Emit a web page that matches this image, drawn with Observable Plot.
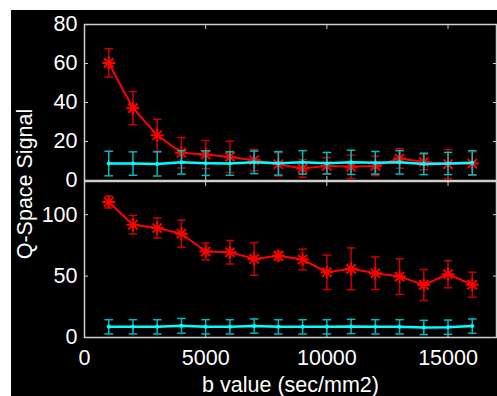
<!DOCTYPE html>
<html>
<head>
<meta charset="utf-8">
<script src="https://cdn.jsdelivr.net/npm/d3@7"></script>
<script src="https://cdn.jsdelivr.net/npm/@observablehq/plot@0.6"></script>
<style>
html, body { margin: 0; padding: 0; background: #fff; }
#wrap { position: relative; width: 497px; height: 396px; overflow: hidden; }
#bg { position: absolute; left: 11px; top: 10px; width: 486px; height: 386px; background: #000; }
#top, #bot { position: absolute; left: 0; }
#top { top: 0; }
#bot { top: 171px; }
#ylab { position: absolute; left: 25px; top: 184px; transform: translate(-50%, -50%) rotate(-90deg);
  color: #fff; font: 21.5px "Liberation Sans", Arial, sans-serif; white-space: nowrap; }
</style>
</head>
<body>
<div id="wrap">
  <div id="bg"></div>
  <div id="top"></div>
  <div id="bot"></div>
  <div id="ylab"></div>
</div>
<script>
const bValues = [1000, 2000, 3000, 4000, 5000, 6000, 7000, 8000, 9000, 10000, 11000, 12000, 13000, 14000, 15000, 16000];

const topRed    = [60.3, 37.1, 23.2, 14.2, 13.3, 12.1, 10.4, 8.3, 6.2, 7.5, 7.0, 7.5, 11.3, 9.5, 8.4, 8.7];
const topRedErr = [7.3, 8.5, 8.2, 7.8, 7.2, 8.0, 5.5, 6.0, 4.5, 4.2, 6.0, 5.0, 5.0, 4.0, 7.5, 6.0];
const topCyan    = [8.7, 8.7, 8.5, 9.3, 8.9, 8.7, 9.3, 8.8, 9.3, 8.9, 9.3, 9.1, 9.3, 8.5, 8.7, 9.1];
const topCyanErr = [6.3, 6.0, 6.2, 6.0, 6.3, 6.0, 5.8, 6.0, 6.0, 5.5, 6.2, 5.8, 6.0, 5.5, 5.7, 6.2];

const botRed    = [110.3, 91.8, 89.1, 84.5, 70.0, 69.4, 64.0, 66.5, 63.5, 53.1, 55.9, 52.3, 49.6, 42.8, 51.5, 43.0];
const botRedErr = [4.8, 7.6, 8.2, 11.0, 6.8, 9.6, 13.3, 3.5, 8.4, 14.0, 17.0, 13.2, 14.5, 12.6, 11.0, 10.2];
const botCyan    = [8.7, 8.7, 8.7, 9.5, 8.7, 8.7, 9.3, 8.7, 8.7, 8.7, 9.0, 8.7, 8.7, 8.2, 8.4, 9.3];
const botCyanErr = [5.8, 5.8, 5.8, 6.0, 5.8, 5.8, 5.8, 5.8, 5.8, 5.8, 5.8, 5.8, 5.8, 5.8, 5.8, 5.8];

const xTicks = [0, 5000, 10000, 15000];
const topYTicks = [0, 20, 40, 60, 80];
const botYTicks = [0, 50, 100];
const xLabel = "b value (sec/mm2)";
const yLabel = "Q-Space Signal";

const capSymbol = { draw(ctx, size) { const w = Math.sqrt(size / Math.PI); ctx.moveTo(-w, 0); ctx.lineTo(w, 0); } };
const starSymbol = { draw(ctx, size) {
  const R = Math.sqrt(size / Math.PI);
  for (let k = 0; k < 4; k++) {
    const a = k * Math.PI / 4;
    ctx.moveTo(-R * Math.cos(a), -R * Math.sin(a));
    ctx.lineTo(R * Math.cos(a), R * Math.sin(a));
  }
} };

function rows(vals, errs) {
  return bValues.map((b, i) => ({ b, v: vals[i], lo: vals[i] - errs[i], hi: vals[i] + errs[i] }));
}

function series(data, line, bar, isRed) {
  return [
    Plot.ruleX(data, { x: "b", y1: "lo", y2: "hi", stroke: bar, strokeWidth: 1.5 }),
    Plot.dot(data, { x: "b", y: "lo", symbol: capSymbol, r: 4.3, fill: "none", stroke: bar, strokeWidth: 1.5 }),
    Plot.dot(data, { x: "b", y: "hi", symbol: capSymbol, r: 4.3, fill: "none", stroke: bar, strokeWidth: 1.5 }),
    Plot.line(data, { x: "b", y: "v", stroke: line, strokeWidth: isRed ? 2 : 2.5 }),
    isRed
      ? Plot.dot(data, { x: "b", y: "v", symbol: starSymbol, r: 6.5, fill: "none", stroke: line, strokeWidth: 2 })
      : Plot.dot(data, { x: "b", y: "v", r: 2, fill: line, stroke: "none" })
  ];
}

const plain = d => String(d);

function panel({ redY, redE, cyanY, cyanE, yMax, yTicks, showX, height, marginTop, marginBottom }) {
  const red = rows(redY, redE);
  const cyan = rows(cyanY, cyanE);
  return Plot.plot({
    width: 497, height, marginLeft: 84, marginRight: 1, marginTop, marginBottom,
    style: { background: "transparent", color: "white", fontFamily: "'Liberation Sans', Arial, sans-serif", fontSize: "21.5px", overflow: "visible" },
    x: { domain: [0, 17000] },
    y: { domain: [0, yMax] },
    marks: [
      Plot.frame({ stroke: "#d0d0d0", strokeWidth: 1.5 }),
      Plot.axisY(yTicks, { anchor: "left", tickSize: 0, tickPadding: 7, label: null, fill: "white", tickFormat: plain }),
      Plot.axisY(yTicks, { anchor: "left", tickSize: -4, fill: "none", label: null, stroke: "#d0d0d0" }),
      Plot.axisY(yTicks, { anchor: "right", tickSize: -4, fill: "none", label: null, stroke: "#d0d0d0" }),
      Plot.axisX(xTicks, { anchor: "top", tickSize: -4, fill: "none", label: null, stroke: "#d0d0d0" }),
      Plot.axisX(xTicks, { anchor: "bottom", tickSize: -4, fill: showX ? "white" : "none", tickPadding: 16, label: null, stroke: "#d0d0d0", tickFormat: plain }),
      ...series(red, "#ff0000", "#cc0000", true),
      ...series(cyan, "#00ffff", "#00bcbc", false),
      showX ? Plot.text([xLabel], { frameAnchor: "bottom", text: d => d, dy: 48, lineAnchor: "middle", fill: "white" }) : null
    ]
  });
}

document.getElementById("top").append(panel({
  redY: topRed, redE: topRedErr, cyanY: topCyan, cyanE: topCyanErr,
  yMax: 80, yTicks: topYTicks, showX: false, height: 190, marginTop: 24, marginBottom: 10
}));
document.getElementById("bot").append(panel({
  redY: botRed, redE: botRedErr, cyanY: botCyan, cyanE: botCyanErr,
  yMax: 127, yTicks: botYTicks, showX: true, height: 225, marginTop: 10, marginBottom: 59
}));
document.getElementById("ylab").textContent = yLabel;
</script>
</body>
</html>
